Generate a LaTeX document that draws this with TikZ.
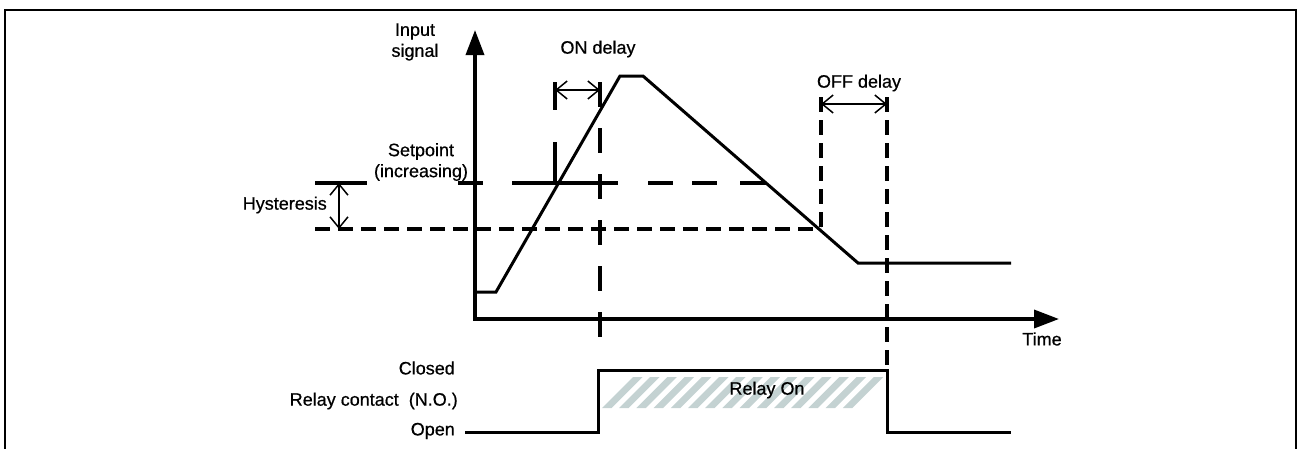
\documentclass[tikz,border=0pt]{standalone}
\usepackage{fontspec}
\setmainfont{Liberation Sans}[FakeBold=0.6]
\usetikzlibrary{arrows.meta}
\definecolor{hatchcol}{RGB}{196,210,210}
\begin{document}
\begin{tikzpicture}[x=1pt,y=-1pt,
  font=\fontsize{18}{21}\selectfont,
  framestyle/.style={line width=2.5pt},
  axisstyle/.style={line width=3.5pt,-{Triangle[length=25pt,width=18pt]}},
  sigstyle/.style={line width=3pt,line join=miter},
  solidref/.style={line width=3.5pt},
  longdash/.style={line width=3.5pt,dash pattern=on 25pt off 21pt},
  shortdash/.style={line width=3.5pt,dash pattern=on 15pt off 8pt},
  dimarrow/.style={line width=1.5pt,{Straight Barb[length=11pt,width=18pt]}-{Straight Barb[length=11pt,width=18pt]}},
  lbl/.style={inner sep=0pt}]
\useasboundingbox (0,0) rectangle (1300,448);
% frame
\draw[framestyle] (5,450) -- (5,10) -- (1296,10) -- (1296,450);
% hatch
\foreach \i in {0,...,14}
  \fill[hatchcol] ({602+17.2*\i},408) -- ({611.5+17.2*\i},408) -- ({642.5+17.2*\i},377) -- ({633+17.2*\i},377) -- cycle;
% axes
\coordinate (Ybot) at (475,320.75);
\coordinate (Ytip) at (475,30);
\coordinate (Xl) at (473.25,319);
\coordinate (Xtip) at (1059,319);
\draw[axisstyle] (Ybot) -- (Ytip);
\draw[axisstyle] (Xl) -- (Xtip);
% input signal
\coordinate (s0) at (475,292);
\coordinate (s1) at (496,292);
\coordinate (s2) at (620,76);
\coordinate (s3) at (643,76);
\coordinate (s4) at (858,263);
\coordinate (s5) at (1011,263);
\draw[sigstyle] (s0) -- (s1) -- (s2) -- (s3) -- (s4) -- (s5);
% setpoint line (long dashes)
\draw[solidref] (458,183) -- (483,183);
\draw[solidref] (512,183) -- (618,183);
\draw[solidref] (648,183) -- (673,183);
\draw[solidref] (692,183) -- (717,183);
\draw[solidref] (740,183) -- (766,183);
% hysteresis
\coordinate (h1) at (315,183);
\coordinate (h2) at (367,183);
\draw[solidref] (h1) -- (h2);
\coordinate (l1) at (315,229);
\coordinate (l2) at (821,229);
\draw[shortdash] (l1) -- (l2);
\coordinate (ha) at (339,183);
\coordinate (hb) at (339,229);
\draw[dimarrow] (ha) -- (hb);
% ON delay
\draw[solidref] (555,82) -- (555,110);
\draw[solidref] (555,142) -- (555,183);
\coordinate (onr1) at (600,82);
\coordinate (onr2) at (600,338);
\draw[longdash] (onr1) -- (onr2);
\coordinate (ona) at (555,90);
\coordinate (onb) at (600,90);
\draw[dimarrow] (ona) -- (onb);
% OFF delay
\coordinate (offl1) at (821,97);
\coordinate (offl2) at (821,229);
\draw[shortdash] (offl1) -- (offl2);
\coordinate (offr1) at (887,97);
\coordinate (offr2) at (887,370);
\draw[shortdash] (offr1) -- (offr2);
\coordinate (offa) at (821,104);
\coordinate (offb) at (887,104);
\draw[dimarrow] (offa) -- (offb);
% relay contact
\coordinate (r0) at (465,432);
\coordinate (r1) at (598,432);
\coordinate (r2) at (598,370);
\coordinate (r3) at (887,370);
\coordinate (r4) at (887,432);
\coordinate (r5) at (1011,432);
\draw[sigstyle] (r0) -- (r1) -- (r2) -- (r3) -- (r4) -- (r5);
% labels
\node[lbl,align=center] (insig) at (415,42) {Input\\signal};
\node[lbl] (ondl) at (598,49) {ON delay};
\node[lbl,align=center] (setp) at (421,162) {Setpoint\\(increasing)};
\node[lbl,anchor=east] (hyst) at (327,205) {Hysteresis};
\node[lbl] (offdl) at (859,83) {OFF delay};
\node[lbl] (timel) at (1042,339) {Time};
\node[lbl,anchor=east] (closed) at (455,368) {Closed};
\node[lbl,anchor=east] (rcont) at (458,401) {Relay contact~~(N.O.)};
\node[lbl,anchor=east] (openl) at (455,431) {Open};
\node[lbl] (ronl) at (767,390) {Relay On};
\end{tikzpicture}
\end{document}
